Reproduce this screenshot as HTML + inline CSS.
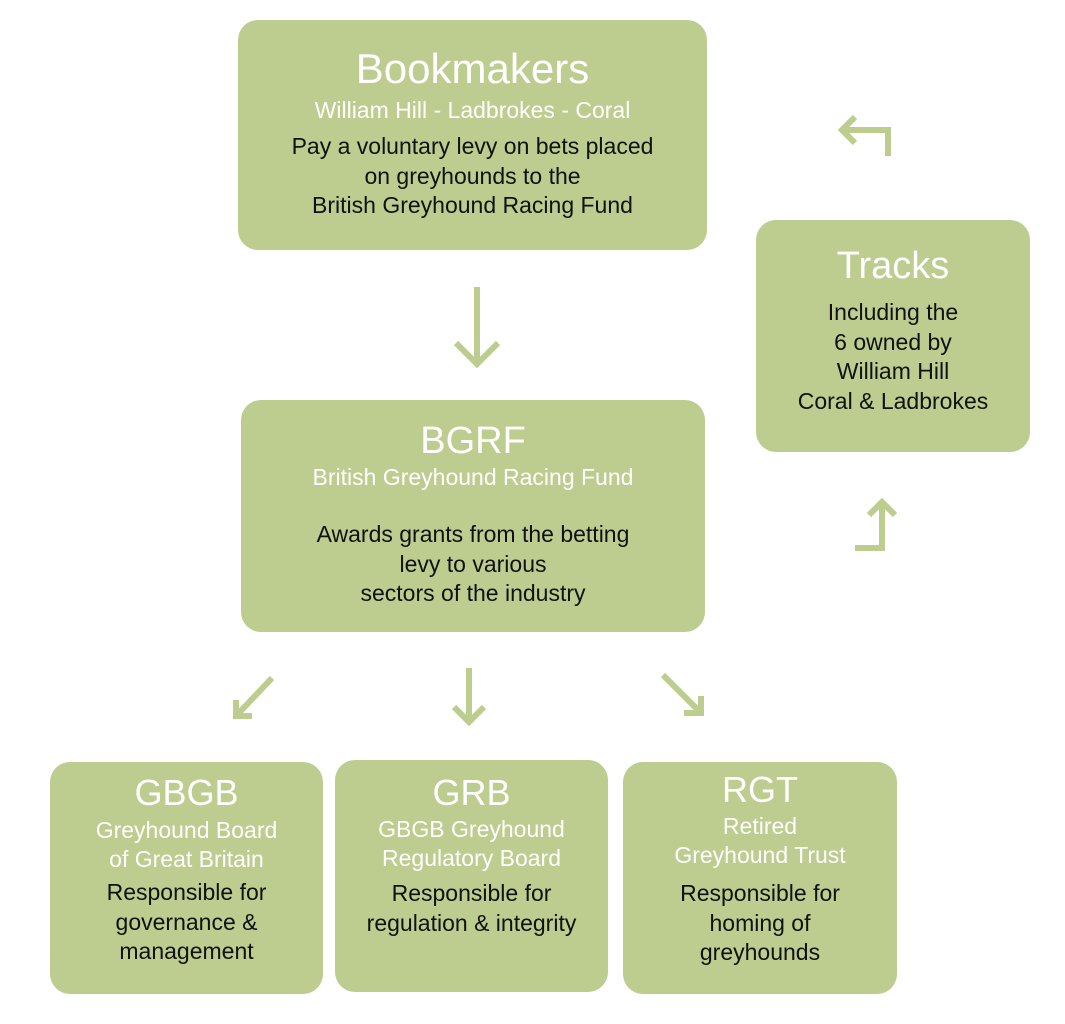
<!DOCTYPE html>
<html><head><style>
body{margin:0;width:1065px;height:1024px;background:#fff;position:relative;overflow:hidden;font-family:"Liberation Sans",sans-serif}
.b{position:absolute;background:#bccd8f;border-radius:20px;text-align:center;color:#111}
.t{color:#fff;position:absolute;left:0;right:0}
.l{position:absolute;left:0;right:0;font-size:23px;line-height:29.5px}
</style></head><body>
<div class="b" style="left:238px;top:20px;width:469px;height:230px">
 <div class="t" style="top:25px;font-size:42px">Bookmakers</div>
 <div class="t" style="top:77px;font-size:23px">William Hill - Ladbrokes - Coral</div>
 <div class="l" style="top:112px">Pay a voluntary levy on bets placed<br>on greyhounds to the<br>British Greyhound Racing Fund</div>
</div>
<div class="b" style="left:241px;top:400px;width:464px;height:232px">
 <div class="t" style="top:20px;font-size:38px">BGRF</div>
 <div class="t" style="top:64px;font-size:23px">British Greyhound Racing Fund</div>
 <div class="l" style="top:120px">Awards grants from the betting<br>levy to various<br>sectors of the industry</div>
</div>
<div class="b" style="left:756px;top:220px;width:274px;height:232px">
 <div class="t" style="top:25px;font-size:38px">Tracks</div>
 <div class="l" style="top:78px">Including the<br>6 owned by<br>William Hill<br>Coral &amp; Ladbrokes</div>
</div>
<div class="b" style="left:50px;top:762px;width:273px;height:232px">
 <div class="t" style="top:10px;font-size:36px">GBGB</div>
 <div class="t" style="top:54px;font-size:23px;line-height:29px">Greyhound Board<br>of Great Britain</div>
 <div class="l" style="top:116px">Responsible for<br>governance &amp;<br>management</div>
</div>
<div class="b" style="left:335px;top:760px;width:273px;height:232px">
 <div class="t" style="top:12px;font-size:36px">GRB</div>
 <div class="t" style="top:55px;font-size:23px;line-height:29px">GBGB Greyhound<br>Regulatory Board</div>
 <div class="l" style="top:119px">Responsible for<br>regulation &amp; integrity</div>
</div>
<div class="b" style="left:623px;top:762px;width:274px;height:232px">
 <div class="t" style="top:7px;font-size:36px">RGT</div>
 <div class="t" style="top:50px;font-size:23px;line-height:29px">Retired<br>Greyhound Trust</div>
 <div class="l" style="top:117px">Responsible for<br>homing of<br>greyhounds</div>
</div>
<svg width="1065" height="1024" style="position:absolute;left:0;top:0" fill="none" stroke="#bccd8f" stroke-width="6">
 <path d="M477 287V364M456 343L477 364L498 343"/>
 <path d="M888 156V130H842M855 117L842 130L855 143"/>
 <path d="M855 548H882V502M869 515L882 502L895 515"/>
 <path d="M272 678L236 716M236 700V716H252"/>
 <path d="M469 668V722M454 707L469 722L484 707"/>
 <path d="M663 675L701 713M701 696V713H684"/>
</svg>
</body></html>
